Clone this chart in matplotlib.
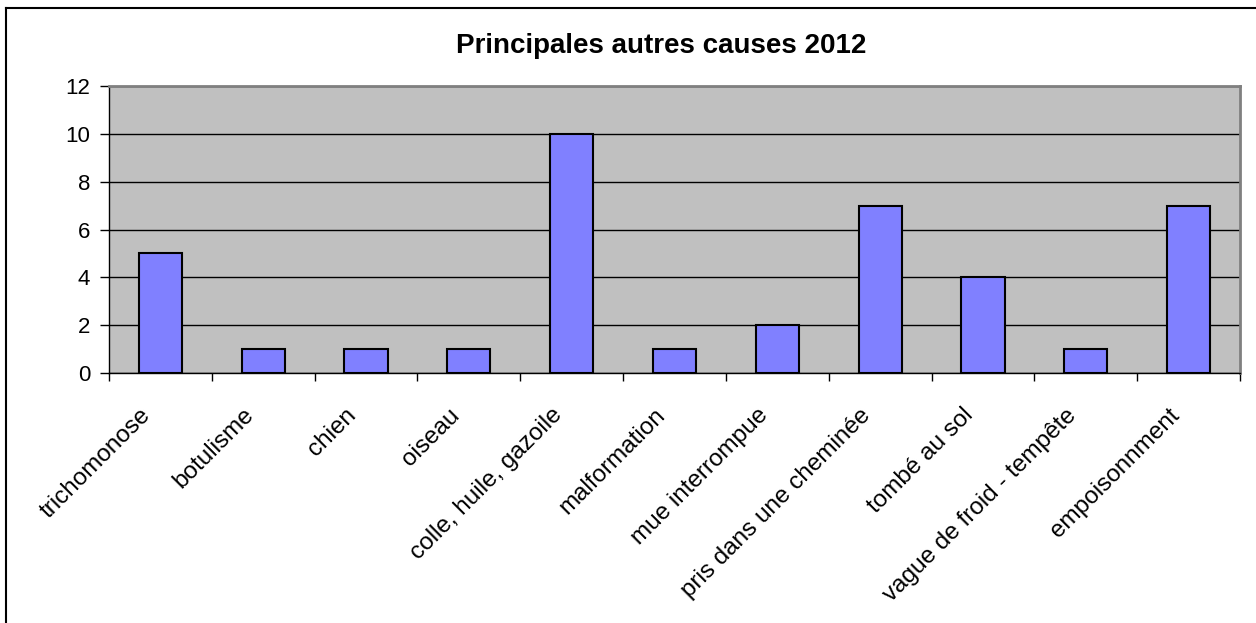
import matplotlib.pyplot as plt
import numpy as np

plt.rcParams['font.family'] = ['Liberation Sans', 'DejaVu Sans']

categories = ['trichomonose', 'botulisme', 'chien', 'oiseau', 'colle, huile, gazoile',
              'malformation', 'mue interrompue', 'pris dans une cheminée', 'tombé au sol',
              'vague de froid - tempête', 'empoisonnment']
values = [5, 1, 1, 1, 10, 1, 2, 7, 4, 1, 7]
yticks = [0, 2, 4, 6, 8, 10, 12]

W, H = 1256, 623
fig = plt.figure(figsize=(W / 100, H / 100), dpi=100)
ax = fig.add_axes([109 / W, 1 - 373 / H, (1240 - 109) / W, (373 - 86) / H])

x = np.arange(len(categories))
ax.set_facecolor('#c0c0c0')
ax.bar(x, values, width=0.42, color='#8080ff', edgecolor='black', linewidth=1.5, zorder=3)

ax.set_xlim(-0.5, len(categories) - 0.5)
ax.set_ylim(0, 12)
ax.set_yticks(yticks)
ax.tick_params(axis='y', labelsize=16, length=6.5, width=1, direction='out', pad=7)
ax.yaxis.grid(True, color='black', linewidth=1, zorder=1)

ax.set_xticks(np.arange(len(categories) + 1) - 0.5)
ax.set_xticklabels([])
ax.tick_params(axis='x', length=6, width=1, direction='out')
for i, c in enumerate(categories):
    ax.text(i - 0.2, -1.3, c, rotation=45, rotation_mode='anchor', ha='right', va='top',
            fontsize=17.5)

for s in ['top', 'right']:
    ax.spines[s].set_color('#808080')
    ax.spines[s].set_linewidth(2)
for s in ['left', 'bottom']:
    ax.spines[s].set_color('black')
    ax.spines[s].set_linewidth(1)

fig.text(661 / W, 1 - 46 / H, 'Principales autres causes 2012', ha='center', va='center',
         fontsize=20, fontweight='bold')

# outer chart border (left and top)
fig.add_artist(plt.Line2D([6 / W, 6 / W], [0, 1 - 8 / H], color='black', linewidth=1.5,
                          transform=fig.transFigure))
fig.add_artist(plt.Line2D([6 / W, 1], [1 - 8 / H, 1 - 8 / H], color='black', linewidth=1.5,
                          transform=fig.transFigure))

fig.savefig('out.png', dpi=100)
